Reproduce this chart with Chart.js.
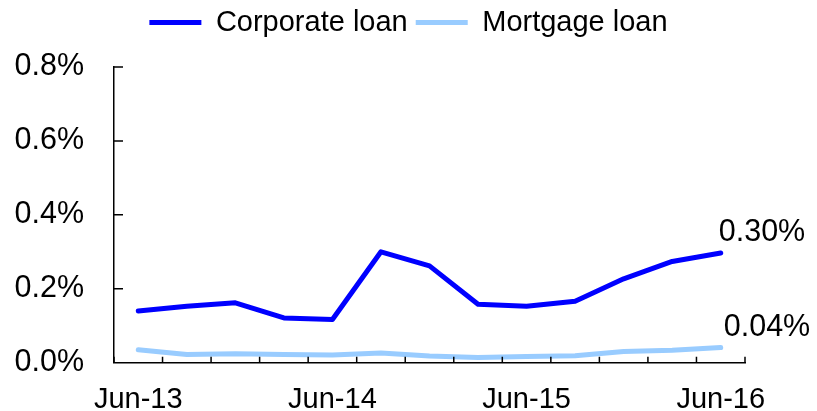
<!DOCTYPE html>
<html>
<head>
<meta charset="utf-8">
<script src="https://cdn.jsdelivr.net/npm/chart.js@4.4.0/dist/chart.umd.min.js"></script>
<style>
  html, body { margin: 0; padding: 0; background: #fff; }
  #wrap { width: 817px; height: 411px; position: relative; }
</style>
</head>
<body>
<div id="wrap"><canvas id="loanChart"></canvas></div>
<script>
// quarterly data, % of loans
const quarters = ['Jun-13', 'Sep-13', 'Dec-13', 'Mar-14', 'Jun-14', 'Sep-14', 'Dec-14',
                  'Mar-15', 'Jun-15', 'Sep-15', 'Dec-15', 'Mar-16', 'Jun-16'];
const corporateLoan = [0.140, 0.153, 0.162, 0.121, 0.117, 0.300, 0.262, 0.158, 0.153, 0.166, 0.227, 0.274, 0.297];
const mortgageLoan = [0.035, 0.022, 0.024, 0.022, 0.021, 0.026, 0.018, 0.014, 0.017, 0.019, 0.030, 0.034, 0.041];
const shownTicks = ['Jun-13', 'Jun-14', 'Jun-15', 'Jun-16'];
const yTicks = [0, 0.2, 0.4, 0.6, 0.8];

const FAMILY = '"Liberation Sans", Arial, sans-serif';
const FONT = { family: FAMILY, size: 29 };
const NUM_FONT = { family: FAMILY, size: 30.5 };

// short tick marks pointing into the plot area
const innerTicks = {
    id: 'innerTicks',
    afterDraw(chart) {
        const ctx = chart.ctx;
        const x = chart.scales.x;
        const y = chart.scales.y;
        ctx.save();
        ctx.strokeStyle = '#000';
        ctx.lineWidth = 1.5;
        ctx.beginPath();
        for (let i = 0; i <= quarters.length; i++) {
            const px = x.getPixelForValue(i - 0.5);
            ctx.moveTo(px, y.bottom);
            ctx.lineTo(px, y.bottom - 6);
        }
        yTicks.forEach(function(v) {
            if (v === 0) return;
            const py = y.getPixelForValue(v);
            ctx.moveTo(x.left, py);
            ctx.lineTo(x.left + 9, py);
        });
        ctx.stroke();
        ctx.restore();
    }
};

// value label next to the last point of each line
const endLabels = {
    id: 'endLabels',
    afterDatasetsDraw(chart) {
        const ctx = chart.ctx;
        const offsets = [[-2, -20], [3, -20]];
        ctx.save();
        ctx.font = NUM_FONT.size + 'px ' + FAMILY;
        ctx.fillStyle = '#000';
        ctx.textAlign = 'left';
        ctx.textBaseline = 'middle';
        chart.data.datasets.forEach(function(ds, i) {
            const meta = chart.getDatasetMeta(i);
            const last = meta.data[meta.data.length - 1];
            const v = ds.data[ds.data.length - 1];
            ctx.fillText(v.toFixed(2) + '%', last.x + offsets[i][0], last.y + offsets[i][1]);
        });
        ctx.restore();
    }
};

// extra room under the legend
const legendGap = {
    id: 'legendGap',
    beforeInit(chart) {
        const origFit = chart.legend.fit;
        chart.legend.fit = function() {
            origFit.bind(chart.legend)();
            this.height += 20;
        };
    }
};

const ctx = document.getElementById('loanChart').getContext('2d');
const loanChart = new Chart(ctx, {
    type: 'line',
    data: {
        labels: quarters,
        datasets: [
            {
                label: 'Corporate loan',
                data: corporateLoan,
                borderColor: '#0000FF',
                backgroundColor: '#0000FF',
                borderWidth: 5,
                pointRadius: 0,
                tension: 0,
                borderCapStyle: 'round',
                borderJoinStyle: 'round'
            },
            {
                label: 'Mortgage loan',
                data: mortgageLoan,
                borderColor: '#99CCFF',
                backgroundColor: '#99CCFF',
                borderWidth: 5,
                pointRadius: 0,
                tension: 0,
                borderCapStyle: 'round',
                borderJoinStyle: 'round'
            }
        ]
    },
    options: {
        responsive: true,
        maintainAspectRatio: false,
        animation: false,
        layout: { padding: 0 },
        scales: {
            x: {
                offset: true,
                grid: { display: true, offset: true, drawOnChartArea: false, drawTicks: false },
                border: { display: true, color: '#000', width: 1.5 },
                ticks: {
                    autoSkip: false,
                    maxRotation: 0,
                    padding: 20,
                    color: '#000',
                    font: FONT,
                    callback: function(val, idx) {
                        const lab = quarters[idx];
                        return shownTicks.includes(lab) ? lab : '';
                    }
                },
                afterFit: function(s) { s.height = 48; }
            },
            y: {
                min: 0,
                max: 0.8,
                afterBuildTicks: function(s) { s.ticks = yTicks.map(v => ({ value: v })); },
                grid: { display: false, drawTicks: false },
                border: { display: true, color: '#000', width: 1.5 },
                ticks: {
                    padding: 30,
                    color: '#000',
                    font: NUM_FONT,
                    callback: function(v) { return v.toFixed(1) + '%'; }
                },
                afterFit: function(s) { s.width = 114; }
            },
            // empty right margin for the end labels
            yRight: {
                position: 'right',
                min: 0,
                max: 0.8,
                grid: { display: false, drawTicks: false },
                border: { display: false },
                ticks: { display: false },
                afterFit: function(s) { s.width = 72; }
            }
        },
        plugins: {
            legend: {
                position: 'top',
                labels: {
                    color: '#000',
                    font: FONT,
                    boxWidth: 52,
                    boxHeight: 5,
                    padding: 8,
                    generateLabels: function(chart) {
                        return Chart.defaults.plugins.legend.labels.generateLabels(chart)
                            .map(l => Object.assign(l, { lineWidth: 0 }));
                    }
                }
            },
            tooltip: { enabled: false }
        }
    },
    plugins: [innerTicks, endLabels, legendGap]
});
</script>
</body>
</html>
